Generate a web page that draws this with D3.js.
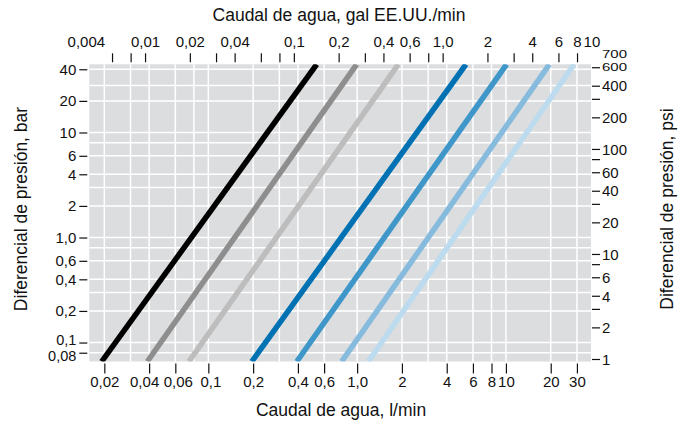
<!DOCTYPE html>
<html>
<head>
  <meta charset="utf-8">
  <script src="https://cdnjs.cloudflare.com/ajax/libs/d3/7.8.5/d3.min.js"></script>
  <title>caudal</title>
  <style>
    body { margin: 0; background: #fff; }
    text { font-family: "Liberation Sans", Arial, sans-serif; fill: #111; }
  </style>
</head>
<body>
<script>
// presion en los extremos del grafico (bar) y caudal de cada linea (l/min) en esos extremos
var presionExtremos = [0.066, 44.6];
var colores   = ["#000000", "#8e8e8e", "#bdbdbd", "#0071b2", "#3f97c9", "#86bbde", "#bddbee"];
var caudalBajo = [0.0192, 0.0389, 0.0741, 0.196, 0.393, 0.787, 1.19];
var caudalAlto = [0.535, 0.993, 1.89, 5.39, 10.1, 19.6, 28.7];

// ejes
var ticksLmin  = [0.02, 0.04, 0.06, 0.1, 0.2, 0.4, 0.6, 1, 2, 4, 6, 8, 10, 20, 30];
var ticksGal   = [0.004, 0.006, 0.008, 0.01, 0.02, 0.03, 0.04, 0.06, 0.08, 0.1, 0.2, 0.3, 0.4, 0.6, 0.8, 1, 2, 3, 4, 6, 8, 10];
var etiquetasGal = [0.004, 0.01, 0.02, 0.04, 0.1, 0.2, 0.4, 0.6, 1, 2, 4, 6, 8, 10];
var ticksBar   = [40, 20, 10, 6, 4, 2, 1, 0.6, 0.4, 0.2, 0.1, 0.08];
var ticksPsi   = [700, 600, 400, 300, 200, 100, 80, 60, 40, 30, 20, 10, 8, 6, 4, 3, 2, 1];
var etiquetasPsi = [700, 600, 400, 200, 100, 60, 40, 20, 10, 6, 4, 2, 1];
var gridLmin   = [0.02, 0.03, 0.04, 0.06, 0.08, 0.1, 0.2, 0.3, 0.4, 0.6, 1, 2, 3, 4, 6, 8, 10, 20, 30];
var gridBar    = [40, 28, 20, 10, 8, 6, 4, 3, 2, 1, 0.8, 0.6, 0.4, 0.3, 0.2, 0.1, 0.08];

var LGAL = 3.785, PSI = 14.5;
var w = 685, h = 424;
var x0 = 89.3, x1 = 591, y0 = 64.3, y1 = 361.5;
var fs = 15;

var x = d3.scaleLog().domain([0.01585, 37.3]).range([x0, x1]);
var y = d3.scaleLog().domain([presionExtremos[0], presionExtremos[1]]).range([y1, y0]);

var fmt = function(v) {
  return v >= 1 ? (v == 1 ? "1,0" : String(v)) : String(v).replace(".", ",");
};

var svg = d3.select("body").append("svg")
  .attr("width", w)
  .attr("height", h);

// fondo y rejilla
svg.append("rect")
  .attr("x", x0).attr("y", y0)
  .attr("width", x1 - x0).attr("height", y1 - y0)
  .attr("fill", "#dcdddf");

svg.selectAll(".gv").data(gridLmin).enter().append("line")
  .attr("x1", function(d) { return x(d); }).attr("x2", function(d) { return x(d); })
  .attr("y1", y0).attr("y2", y1)
  .attr("stroke", "#fff").attr("stroke-width", 1.5);

svg.selectAll(".gh").data(gridBar).enter().append("line")
  .attr("y1", function(d) { return y(d); }).attr("y2", function(d) { return y(d); })
  .attr("x1", x0).attr("x2", x1)
  .attr("stroke", "#fff").attr("stroke-width", 1.5);

svg.append("clipPath").attr("id", "area")
  .append("rect")
  .attr("x", x0).attr("y", y0)
  .attr("width", x1 - x0).attr("height", y1 - y0);

// lineas de caudal
var linea = d3.line()
  .x(function(d) { return x(d[0]); })
  .y(function(d) { return y(d[1]); });

var series = colores.map(function(c, i) {
  return [[caudalBajo[i], presionExtremos[0]], [caudalAlto[i], presionExtremos[1]]];
});

svg.append("g").attr("clip-path", "url(#area)")
  .selectAll("path").data(series).enter().append("path")
  .attr("d", linea)
  .attr("fill", "none")
  .attr("stroke", function(d, i) { return colores[i]; })
  .attr("stroke-width", 5.5);

// eje inferior l/min
var ejeX = svg.append("g").attr("transform", "translate(0," + (y1 + 2) + ")")
  .call(d3.axisBottom(x).tickValues(ticksLmin).tickFormat(fmt).tickSize(10).tickPadding(3));
// separar etiquetas muy juntas
ejeX.selectAll(".tick text").attr("dx", function(d) {
  return d == 0.04 ? -5 : d == 0.06 ? 2.5 : d == 0.1 ? 2 : 0;
});

// eje superior gal/min
var enRango = function(v) { return v >= x.domain()[0] && v <= x.domain()[1]; };
var ejeTop = svg.append("g").attr("transform", "translate(0," + (y0 - 2) + ")");
ejeTop.selectAll("line").data(ticksGal.filter(function(g) { return enRango(g * LGAL); })).enter().append("line")
  .attr("x1", function(d) { return x(d * LGAL); }).attr("x2", function(d) { return x(d * LGAL); })
  .attr("y1", 0).attr("y2", -9)
  .attr("stroke", "#111").attr("stroke-width", 1.2);
ejeTop.selectAll("text").data(etiquetasGal).enter().append("text")
  .attr("x", function(d) { return x(d * LGAL); })
  .attr("y", -15)
  .attr("text-anchor", "middle")
  .attr("font-size", fs)
  .text(fmt);

// eje izquierdo bar
var ejeY = svg.append("g").attr("transform", "translate(" + (x0 - 2) + ",0)")
  .call(d3.axisLeft(y).tickValues(ticksBar).tickFormat(fmt).tickSize(8).tickPadding(3));

[ejeX, ejeY].forEach(function(g) {
  g.select(".domain").remove();
  g.selectAll("line").attr("stroke", "#111").attr("stroke-width", 1.2);
  g.selectAll("text").attr("font-size", fs).attr("fill", "#111");
});

// 0,1 y 0,08 quedan muy juntas
ejeY.selectAll(".tick text")
  .attr("font-size", function(d) { return d <= 0.1 ? 14.5 : fs; })
  .attr("dy", function(d) { return d == 0.1 ? "0.12em" : d == 0.08 ? "0.55em" : "0.32em"; });

// eje derecho psi
var enRangoY = function(v) { return v >= y.domain()[0] * 0.999 && v <= y.domain()[1]; };
var ejeR = svg.append("g").attr("transform", "translate(" + (x1 + 1) + ",0)");
ejeR.selectAll("line").data(ticksPsi.filter(function(p) { return enRangoY(p / PSI); })).enter().append("line")
  .attr("y1", function(d) { return y(d / PSI); }).attr("y2", function(d) { return y(d / PSI); })
  .attr("x1", 0).attr("x2", 8)
  .attr("stroke", "#111").attr("stroke-width", 1.2);
ejeR.selectAll("text").data(etiquetasPsi).enter().append("text")
  .attr("transform", function(d) {
    var yy = y(d / PSI);
    if (d == 700) return "translate(10," + (yy - 6.5) + ") scale(1,0.72)";
    if (d == 600) return "translate(10," + (yy - 1) + ") scale(1,0.72)";
    return "translate(10," + yy + ")";
  })
  .attr("dy", "0.35em")
  .attr("font-size", fs)
  .text(function(d) { return String(d); });

// titulos
svg.append("text").attr("x", 339).attr("y", 21).attr("text-anchor", "middle")
  .attr("font-size", 17.5).text("Caudal de agua, gal EE.UU./min");
svg.append("text").attr("x", 341).attr("y", 416).attr("text-anchor", "middle")
  .attr("font-size", 17.5).text("Caudal de agua, l/min");
svg.append("text").attr("transform", "translate(27,209) rotate(-90)").attr("text-anchor", "middle")
  .attr("font-size", 17.5).text("Diferencial de presión, bar");
svg.append("text").attr("transform", "translate(673,209) rotate(-90)").attr("text-anchor", "middle")
  .attr("font-size", 17.5).text("Diferencial de presión, psi");
</script>
</body>
</html>
